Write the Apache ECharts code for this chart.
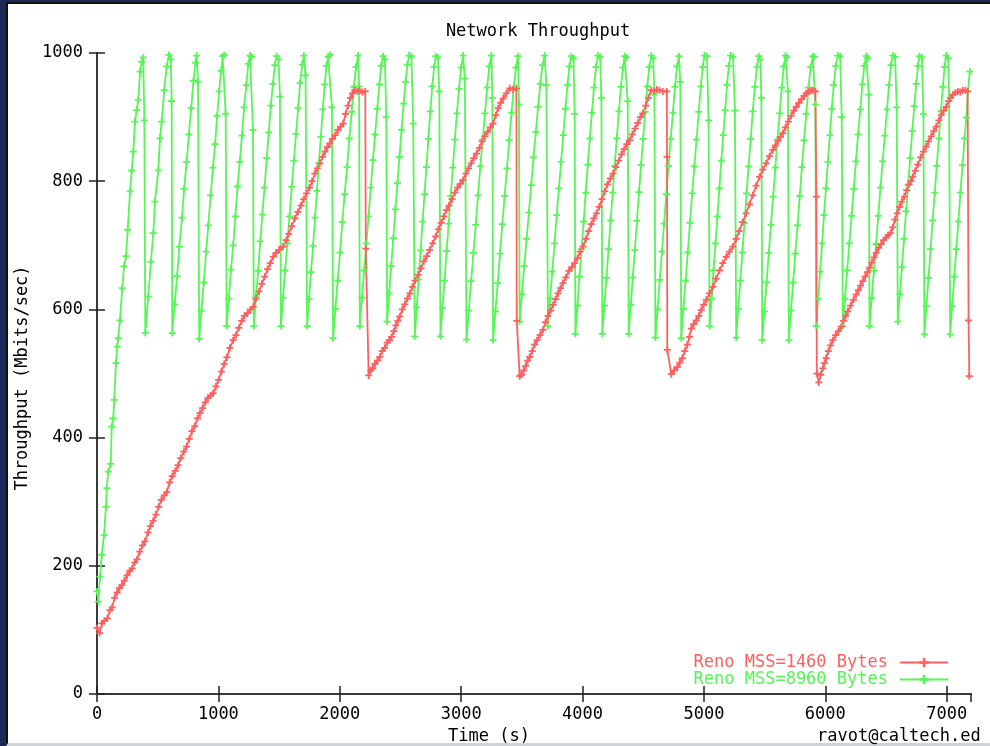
<!DOCTYPE html>
<html>
<head>
<meta charset="utf-8">
<title>Network Throughput</title>
<script src="https://cdn.jsdelivr.net/npm/echarts@6/dist/echarts.min.js"></script>
<style>
  html, body { margin: 0; padding: 0; background: #1b2a57; overflow: hidden; }
  #panel {
    position: absolute; left: 6px; top: 2px; width: 984px; height: 744px;
    box-sizing: border-box; background: #fff;
    border-left: 2px solid #111; border-top: 2px solid #111; border-bottom: 3px solid #cfd3dc;
  }
  #main { position: absolute; left: 0; top: 0; width: 990px; height: 746px; }
</style>
</head>
<body>
<div id="panel"></div>
<div id="main"></div>
<script>
// labels
const titleText = 'Network Throughput';
const xName = 'Time (s)';
const yName = 'Throughput (Mbits/sec)';
const credit = 'ravot@caltech.ed';
const nameReno1460 = 'Reno MSS=1460 Bytes';
const nameReno8960 = 'Reno MSS=8960 Bytes';

// axes
const xMin = 0, xMax = 7200, xStep = 1000;
const yMin = 0, yMax = 1000, yStep = 200;

// [time (s), throughput (Mbit/s)]
const reno1460 = [
  [0,103],[22,95],[40,110],[60,114],[85,118],[107,131],[125,135],[145,150],[165,158],[185,165],
  [205,170],[225,177],[248,185],[270,192],[290,196],[310,205],[330,210],[352,222],[375,232],[395,238],
  [420,252],[440,262],[462,270],[485,280],[508,292],[530,303],[555,310],[575,315],[598,330],[620,340],
  [645,348],[668,357],[690,368],[715,378],[738,386],[760,398],[782,410],[805,418],[828,430],[848,438],
  [870,446],[892,455],[915,462],[937,466],[957,469],[980,480],[1002,490],[1025,503],[1048,515],[1070,525],
  [1095,540],[1122,552],[1145,560],[1168,571],[1192,582],[1215,590],[1240,594],[1265,600],[1287,604],[1310,617],
  [1335,628],[1358,640],[1382,651],[1405,663],[1428,672],[1452,682],[1475,688],[1500,693],[1534,698],[1558,708],
  [1580,718],[1605,730],[1630,742],[1655,752],[1680,762],[1703,772],[1726,781],[1750,790],[1772,800],[1795,812],
  [1815,820],[1836,828],[1858,838],[1878,846],[1898,853],[1918,859],[1940,866],[1962,872],[1985,880],[2007,885],
  [2028,890],[2048,905],[2068,918],[2088,930],[2105,937],[2124,942],[2145,940],[2165,941],[2185,939],[2210,940],
  [2214,695],[2238,497],
  [2255,505],[2272,508],[2290,515],[2310,520],[2330,526],[2350,535],[2370,540],[2390,548],[2410,552],[2426,557],
  [2445,566],[2462,575],[2478,582],[2494,589],[2515,600],[2535,608],[2557,617],[2577,625],[2598,635],[2620,645],
  [2645,654],[2668,664],[2692,675],[2716,683],[2741,693],[2765,703],[2790,714],[2812,725],[2835,735],[2858,745],
  [2879,755],[2900,762],[2925,772],[2948,782],[2970,790],[2993,796],[3016,802],[3040,812],[3060,820],[3082,828],
  [3104,836],[3126,843],[3150,852],[3172,862],[3195,870],[3218,877],[3240,884],[3263,890],[3285,903],[3305,914],
  [3325,922],[3345,929],[3372,937],[3400,945],[3428,943],[3455,945],
  [3458,582],[3482,496],
  [3496,498],[3515,505],[3532,512],[3548,520],[3565,526],[3585,535],[3605,545],[3625,552],[3650,560],[3674,568],
  [3695,580],[3715,590],[3737,598],[3757,607],[3778,616],[3798,625],[3818,633],[3839,641],[3862,650],[3888,660],
  [3912,666],[3935,672],[3958,680],[3980,690],[4004,698],[4028,710],[4050,722],[4072,733],[4093,742],[4114,750],
  [4137,760],[4160,772],[4183,784],[4205,795],[4228,804],[4251,812],[4275,822],[4298,832],[4320,842],[4343,850],
  [4365,858],[4388,864],[4410,873],[4432,882],[4455,891],[4477,900],[4497,906],[4520,918],[4543,930],[4566,942],
  [4590,941],[4612,943],[4634,942],[4660,940],[4694,940],
  [4696,838],[4698,537],[4731,499],
  [4755,505],[4781,510],[4800,517],[4822,524],[4842,535],[4863,545],[4880,557],[4896,570],[4915,577],[4937,583],
  [4958,590],[4978,599],[4998,607],[5019,615],[5045,625],[5074,635],[5100,648],[5129,661],[5155,672],[5184,682],
  [5210,690],[5238,698],[5265,710],[5290,722],[5318,736],[5348,750],[5375,764],[5402,778],[5430,793],[5458,807],
  [5485,818],[5512,828],[5540,839],[5568,849],[5590,856],[5610,863],[5630,869],[5650,875],[5672,884],[5695,893],
  [5718,902],[5740,910],[5760,916],[5782,922],[5805,928],[5825,933],[5843,937],[5862,940],[5880,941],[5897,942],
  [5918,940],
  [5926,776],[5930,500],[5946,486],
  [5962,498],[5979,508],[5993,516],[6007,524],[6025,535],[6043,544],[6062,552],[6085,560],[6108,566],[6131,573],
  [6150,582],[6168,590],[6185,597],[6208,606],[6232,615],[6254,623],[6272,630],[6290,637],[6309,644],[6328,651],
  [6346,658],[6364,665],[6382,673],[6400,681],[6419,688],[6440,696],[6460,702],[6480,708],[6500,712],[6518,716],
  [6537,719],[6555,728],[6574,740],[6592,750],[6611,760],[6630,768],[6650,776],[6670,786],[6690,795],[6705,800],
  [6720,807],[6740,816],[6762,826],[6785,837],[6808,846],[6830,854],[6850,862],[6872,870],[6893,878],[6913,885],
  [6935,895],[6955,903],[6975,910],[6995,916],[7015,925],[7032,930],[7050,935],[7072,938],[7092,940],[7112,939],
  [7132,942],[7154,942],[7172,940],
  [7180,583],[7186,496]
];

const reno8960 = [
  [0,160],[11,144],[25,183],[39,217],[58,248],[74,292],[80,321],[93,347],[113,359],[121,417],
  [134,430],[142,459],[156,516],[167,542],[175,555],[189,583],[208,633],[222,667],[239,683],[253,724],
  [272,784],[286,817],[299,846],[313,893],[327,911],[340,927],[355,971],[368,986],[381,993],
  [390,895],[398,563],
  [422,620],[444,674],[464,719],[477,768],[505,817],[519,867],[533,893],[554,942],[574,979],[593,997],
  [608,990],[615,925],[620,563],
  [640,608],[660,652],[678,698],[700,743],[718,788],[738,830],[757,873],[776,914],[795,957],[812,985],[821,996],
  [832,955],[842,554],
  [860,598],[880,642],[899,690],[917,731],[936,778],[955,821],[973,858],[990,902],[1006,940],[1022,972],[1035,995],[1050,997],
  [1060,905],[1068,574],
  [1086,617],[1104,662],[1122,700],[1140,745],[1158,792],[1176,830],[1194,871],[1212,915],[1230,950],[1246,983],[1260,996],[1275,994],
  [1285,880],[1292,574],
  [1310,620],[1328,660],[1345,706],[1362,748],[1380,790],[1398,836],[1415,876],[1432,918],[1449,952],[1465,981],[1479,995],[1495,990],
  [1507,932],[1515,574],
  [1533,618],[1550,661],[1568,703],[1586,745],[1604,791],[1622,832],[1640,874],[1657,914],[1673,953],[1690,982],[1704,996],
  [1718,965],[1731,574],
  [1747,616],[1763,658],[1780,699],[1796,743],[1812,785],[1828,828],[1844,869],[1860,912],[1876,951],[1890,980],[1904,994],[1920,997],
  [1935,915],[1945,555],
  [1964,601],[1983,645],[2002,689],[2021,736],[2040,780],[2060,822],[2079,867],[2098,908],[2116,947],[2134,978],[2151,996],
  [2159,948],[2165,574],
  [2183,618],[2201,661],[2219,703],[2237,745],[2255,790],[2273,833],[2291,873],[2309,913],[2326,951],[2342,980],[2357,995],[2372,990],
  [2383,900],[2390,581],
  [2407,625],[2424,668],[2441,711],[2458,756],[2475,797],[2492,838],[2509,880],[2526,921],[2542,955],[2557,982],[2571,996],[2590,995],
  [2605,890],[2618,558],
  [2634,603],[2650,647],[2666,692],[2682,737],[2698,780],[2714,822],[2730,866],[2746,909],[2762,948],[2777,978],[2791,995],[2808,993],
  [2820,940],[2829,558],
  [2846,602],[2863,645],[2880,691],[2897,734],[2914,777],[2931,821],[2948,865],[2965,906],[2982,944],[2999,977],[3016,996],
  [3030,960],[3044,553],
  [3063,598],[3082,644],[3101,688],[3120,732],[3139,778],[3158,823],[3177,865],[3196,906],[3214,946],[3232,979],[3249,996],
  [3257,930],[3263,552],
  [3282,597],[3301,641],[3320,687],[3339,733],[3358,777],[3377,820],[3396,864],[3415,907],[3433,946],[3451,977],[3468,995],
  [3476,920],[3482,581],
  [3501,624],[3520,668],[3539,710],[3558,751],[3577,794],[3596,837],[3615,877],[3634,916],[3652,952],[3670,981],[3688,996],
  [3702,950],[3715,574],
  [3733,617],[3751,659],[3769,703],[3787,747],[3805,789],[3823,830],[3841,872],[3859,913],[3876,950],[3892,979],[3908,995],[3925,992],
  [3935,905],[3941,562],
  [3958,606],[3975,651],[3992,694],[4009,737],[4026,782],[4043,826],[4060,867],[4077,907],[4094,946],[4111,978],[4127,996],[4145,994],
  [4155,930],[4163,562],
  [4180,606],[4197,649],[4214,694],[4231,739],[4248,782],[4265,824],[4282,867],[4299,909],[4316,947],[4332,977],[4347,995],[4362,993],
  [4372,925],[4380,562],
  [4397,607],[4414,650],[4431,693],[4448,738],[4465,783],[4482,825],[4499,866],[4516,908],[4533,948],[4550,978],[4567,996],[4582,992],
  [4592,935],[4600,556],
  [4618,600],[4636,646],[4654,690],[4672,734],[4690,780],[4708,824],[4726,866],[4744,907],[4761,947],[4778,979],[4794,995],
  [4805,955],[4813,555],
  [4831,601],[4849,645],[4867,689],[4885,735],[4903,781],[4921,823],[4939,865],[4957,908],[4974,948],[4990,978],[5005,996],[5025,995],
  [5038,895],[5047,574],
  [5063,617],[5079,661],[5095,703],[5111,745],[5127,789],[5143,832],[5159,872],[5175,911],[5190,950],[5205,980],[5219,996],[5240,994],
  [5255,910],[5266,556],
  [5283,601],[5300,645],[5317,689],[5334,735],[5351,781],[5368,823],[5385,866],[5402,909],[5419,947],[5436,978],[5452,995],[5465,990],
  [5473,930],[5480,552],
  [5498,597],[5516,642],[5534,688],[5552,732],[5570,776],[5588,821],[5606,865],[5624,906],[5641,946],[5657,979],[5672,996],[5685,993],
  [5692,940],[5699,552],
  [5717,598],[5735,642],[5753,687],[5771,731],[5789,777],[5807,822],[5825,864],[5843,905],[5861,946],[5879,978],[5897,995],[5910,994],
  [5918,920],[5925,574],
  [5941,617],[5957,659],[5973,703],[5989,747],[6005,789],[6021,830],[6037,872],[6053,913],[6069,950],[6086,980],[6103,996],[6122,995],
  [6135,900],[6144,574],
  [6162,617],[6180,661],[6198,703],[6216,746],[6234,788],[6252,831],[6270,873],[6288,912],[6305,951],[6321,980],[6337,995],[6350,992],
  [6358,935],[6364,574],
  [6382,618],[6400,660],[6418,702],[6436,746],[6454,790],[6472,831],[6490,871],[6508,912],[6525,950],[6541,981],[6556,996],[6575,994],
  [6588,915],[6597,581],
  [6614,624],[6631,666],[6648,710],[6665,753],[6682,794],[6699,836],[6716,878],[6733,917],[6749,952],[6763,980],[6776,995],[6795,993],
  [6808,905],[6816,561],
  [6833,605],[6850,649],[6867,694],[6884,739],[6901,782],[6918,824],[6935,867],[6952,909],[6968,947],[6982,978],[6995,996],[7012,992],
  [7020,925],[7028,561],
  [7045,605],[7062,651],[7079,694],[7096,737],[7113,782],[7130,825],[7147,867],[7162,899],[7175,940],[7190,971]
];

const RED = '#ff5f5f';
const GREEN = '#55f655';
const FONT = "'DejaVu Sans Mono', monospace";
const plus = 'path://M0,3H8V5H0Z M3,0H5V8H3Z';

const chart = echarts.init(document.getElementById('main'));

const axisLine = { show: true, lineStyle: { color: '#3a3a3a', width: 2 } };
const ticks = { show: true, inside: true, length: 8, lineStyle: { color: '#222', width: 1.5 } };
const plain = v => String(v);

const option = {
  animation: false,
  title: {
    text: titleText,
    left: 533,
    top: 18,
    textAlign: 'center',
    textStyle: { fontFamily: FONT, fontSize: 17, fontWeight: 'normal', color: '#000' }
  },
  grid: { left: 97, right: 19, top: 53, bottom: 52 },
  legend: {
    orient: 'vertical',
    right: 36,
    top: 649,
    align: 'right',
    itemWidth: 48,
    itemHeight: 12,
    itemGap: 0,
    data: [
      { name: nameReno1460, textStyle: { color: RED } },
      { name: nameReno8960, textStyle: { color: GREEN } }
    ],
    textStyle: { fontFamily: FONT, fontSize: 17, lineHeight: 16, padding: [0, 7, 0, 0] }
  },
  xAxis: [
    {
      type: 'value', min: xMin, max: xMax, interval: xStep,
      axisLine: axisLine, axisTick: ticks, splitLine: { show: false },
      axisLabel: { margin: 12, showMaxLabel: false, formatter: plain, color: '#000', fontFamily: FONT, fontSize: 17 }
    },
    {
      type: 'value', position: 'top', min: xMin, max: xMax, interval: xStep,
      axisLine: axisLine, axisTick: ticks, splitLine: { show: false }, axisLabel: { show: false }
    }
  ],
  yAxis: [
    {
      type: 'value', min: yMin, max: yMax, interval: yStep,
      axisLine: axisLine, axisTick: ticks, splitLine: { show: false },
      axisLabel: { margin: 14, formatter: plain, color: '#000', fontFamily: FONT, fontSize: 17 }
    },
    {
      type: 'value', position: 'right', min: yMin, max: yMax, interval: yStep,
      axisLine: axisLine, axisTick: ticks, splitLine: { show: false }, axisLabel: { show: false }
    }
  ],
  graphic: [
    {
      type: 'text', x: 489, y: 737,
      style: { text: xName, fontFamily: FONT, fontSize: 17, fill: '#000', align: 'center', verticalAlign: 'middle' }
    },
    {
      type: 'text', x: 23, y: 378, rotation: Math.PI / 2,
      style: { text: yName, fontFamily: FONT, fontSize: 17, fill: '#000', align: 'center', verticalAlign: 'middle' }
    },
    {
      type: 'text', x: 817, y: 737,
      style: { text: credit, fontFamily: FONT, fontSize: 17, fill: '#000', align: 'left', verticalAlign: 'middle' }
    }
  ],
  series: [
    {
      name: nameReno8960,
      type: 'line',
      data: reno8960,
      showAllSymbol: true,
      symbol: plus,
      symbolSize: 7,
      color: GREEN,
      lineStyle: { width: 1.8, color: GREEN },
      itemStyle: { color: GREEN }
    },
    {
      name: nameReno1460,
      type: 'line',
      data: reno1460,
      showAllSymbol: true,
      symbol: plus,
      symbolSize: 7,
      color: RED,
      lineStyle: { width: 1.8, color: RED },
      itemStyle: { color: RED }
    }
  ]
};

chart.setOption(option);
</script>
</body>
</html>
